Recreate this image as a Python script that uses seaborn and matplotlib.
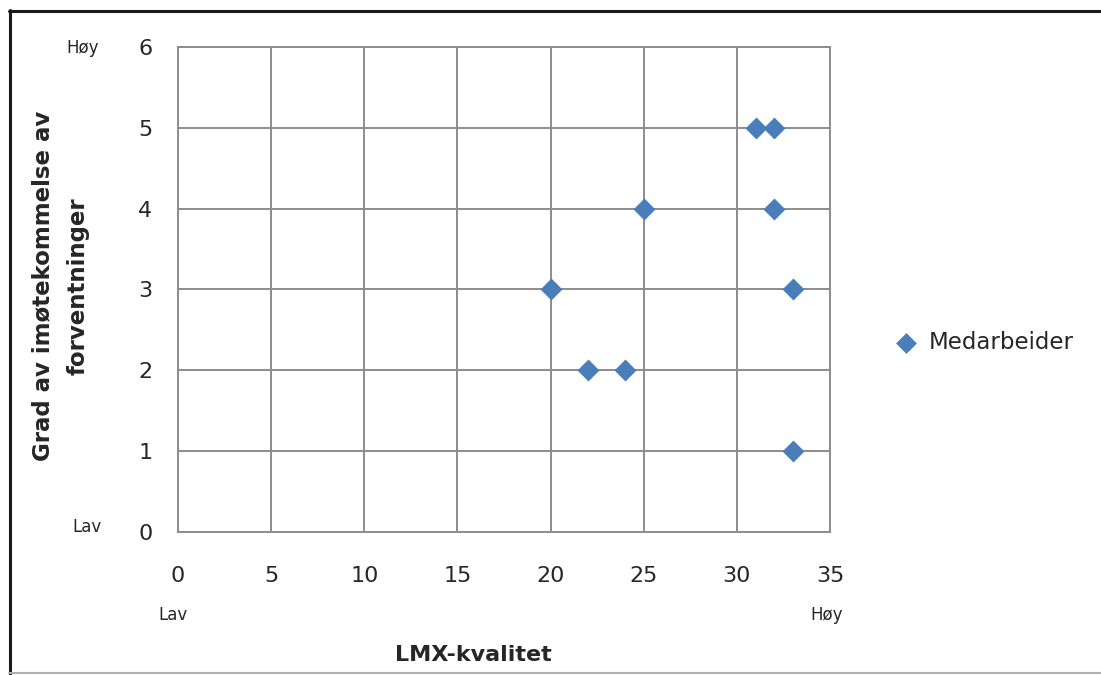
import pandas as pd
import matplotlib.pyplot as plt
import seaborn as sns
from matplotlib.lines import Line2D

# Daten
lmx = [20, 22, 24, 25, 31, 32, 32, 33, 33]
grad = [3, 2, 2, 4, 5, 5, 4, 3, 1]
serie = "Medarbeider"
x_ticks = [0, 5, 10, 15, 20, 25, 30, 35]
y_ticks = [0, 1, 2, 3, 4, 5, 6]

df = pd.DataFrame({"LMX": lmx, "Grad": grad})

sns.set_theme(style="white")
plt.rcParams['font.family'] = ['DejaVu Sans']

fig = plt.figure(figsize=(11.01, 6.75), dpi=100)
ax = fig.add_axes([0.1617, 0.2119, 0.5922, 0.7185])

grey = "#8c8c8c"
blue = "#4a7ebb"
txt = "#262626"

sns.scatterplot(data=df, x="LMX", y="Grad", ax=ax, marker="D", s=125,
                color=blue, linewidth=0, label=serie, zorder=3)

ax.set_xlim(0, 35)
ax.set_ylim(0, 6)
ax.set_xticks(x_ticks)
ax.set_yticks(y_ticks)
ax.grid(True, color=grey, linewidth=1.4)
for s in ax.spines.values():
    s.set_color(grey)
    s.set_linewidth(1.4)
ax.tick_params(axis="both", direction="out", length=6.5, width=1.4, color=grey,
               labelsize=16, labelcolor=txt)
ax.tick_params(axis="y", pad=12)
ax.tick_params(axis="x", pad=18)
ax.set_xlabel("")
ax.set_ylabel("")

# Achsentitel
fig.text(0.430, 0.030, "LMX-kvalitet", ha="center", va="center",
         fontsize=16, fontweight="bold", color=txt)
fig.text(0.055, 0.576, "Grad av imøtekommelse av\nforventninger", ha="center", va="center",
         rotation=90, fontsize=16.5, fontweight="bold", color=txt, linespacing=1.65)

# Lav / Høy
small = dict(fontsize=12, color=txt)
fig.text(0.075, 0.929, "Høy", ha="center", va="center", **small)
fig.text(0.079, 0.219, "Lav", ha="center", va="center", **small)
fig.text(0.157, 0.089, "Lav", ha="center", va="center", **small)
fig.text(0.751, 0.089, "Høy", ha="center", va="center", **small)

# Legende
ax.legend(loc="center left", bbox_to_anchor=(0.794, 0.492), bbox_transform=fig.transFigure,
          frameon=False, fontsize=16.5, handletextpad=0.0, markerscale=0.95,
          borderaxespad=0)

# Rahmen
fig.add_artist(Line2D([0.008, 1.0], [0.983, 0.983], transform=fig.transFigure,
                      color="#1a1a1a", linewidth=2.2))
fig.add_artist(Line2D([0.009, 0.009], [0.0, 0.985], transform=fig.transFigure,
                      color="#1a1a1a", linewidth=2.2))
fig.add_artist(Line2D([0.008, 1.0], [0.003, 0.003], transform=fig.transFigure,
                      color="#b0b0b0", linewidth=1.5))

plt.savefig("out.png", dpi=100)
